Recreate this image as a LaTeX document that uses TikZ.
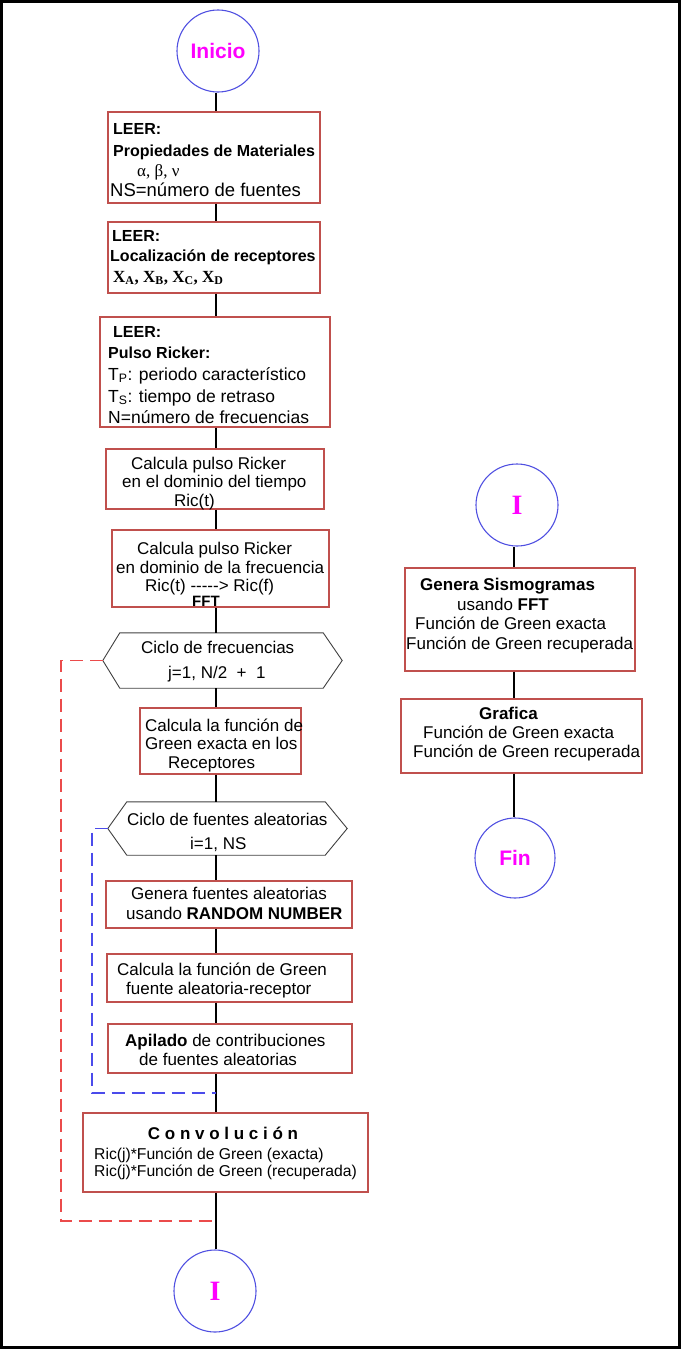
\documentclass[tikz,border=0pt]{standalone}
\usepackage{fontspec}
\setmainfont{Liberation Sans}
\newfontfamily\tnr{Liberation Serif}
\usetikzlibrary{calc}
\definecolor{boxred}{RGB}{192,80,77}
\definecolor{circblue}{RGB}{80,80,225}
\definecolor{mag}{RGB}{255,0,255}
\definecolor{dashred}{RGB}{235,75,75}
\definecolor{dashblue}{RGB}{75,75,235}
\begin{document}
\begin{tikzpicture}[x=1pt,y=-1pt,
  box/.style={draw=boxred, line width=1.3pt, fill=white, inner sep=0pt},
  circ/.style={draw=circblue, line width=1.1pt, circle, inner sep=0pt, minimum size=82pt},
  hexnode/.style={draw=none, inner sep=0pt},
  hexline/.style={draw=black!75, line width=0.9pt},
  t/.style={anchor=base west, inner sep=0pt, font=\fontsize{17}{19}\selectfont},
  tb/.style={anchor=base west, inner sep=0pt, font=\fontsize{16}{19}\selectfont\bfseries},
  tm/.style={anchor=base west, inner sep=0pt, font=\fontsize{17.5}{19}\selectfont},
  ts/.style={anchor=base west, inner sep=0pt, font=\fontsize{15.7}{17}\selectfont},
  link/.style={line width=1.8pt, black},
  loopred/.style={draw=dashred, line width=1.1pt, dash pattern=on 13pt off 7pt},
  loopblue/.style={draw=dashblue, line width=1.1pt, dash pattern=on 13pt off 7pt},
  magtxt/.style={text=mag, font=\fontsize{21}{21}\selectfont\bfseries},
  magI/.style={text=mag, font=\tnr\fontsize{28}{28}\selectfont\bfseries},
]
\useasboundingbox (0,0) rectangle (681,1349);
\draw[line width=3pt] (1.5,1.5) rectangle (679.5,1347.5);

\coordinate (spine) at (216,0);
\coordinate (spineR) at (514,0);

% ---- main column nodes
\node[circ, magtxt] (start) at (218,51) {Inicio};
\node[box, minimum width=212pt, minimum height=91pt] (b1) at (214,157.5) {};
\node[box, minimum width=212pt, minimum height=71pt] (b2) at (214,257.5) {};
\node[box, minimum width=230pt, minimum height=110pt] (b3) at (215,372) {};
\node[box, minimum width=218pt, minimum height=60pt] (b4) at (215,479) {};
\node[box, minimum width=217pt, minimum height=77pt] (b5) at (220.5,568.5) {};
\node[hexnode, minimum width=239pt, minimum height=55pt] (h1) at (222.5,660.5) {};
\node[box, minimum width=161pt, minimum height=66pt] (b6) at (220.5,741) {};
\node[hexnode, minimum width=239pt, minimum height=53pt] (h2) at (227.5,828.5) {};
\node[box, minimum width=246pt, minimum height=47pt] (b7) at (229,904.5) {};
\node[box, minimum width=245pt, minimum height=48pt] (b8) at (229.5,978) {};
\node[box, minimum width=244pt, minimum height=49pt] (b9) at (230,1048.5) {};
\node[box, minimum width=285pt, minimum height=79pt] (b10) at (225.5,1152.5) {};
\node[circ, magI] (endI) at (215,1291) {I};

% ---- right column nodes
\node[circ, magI] (startI) at (517,505) {I};
\node[box, minimum width=230pt, minimum height=103pt] (r1) at (520,619.5) {};
\node[box, minimum width=241pt, minimum height=74pt] (r2) at (521.5,736) {};
\node[circ, magtxt, minimum size=80pt] (fin) at (515,858) {Fin};

% ---- hexagons
\draw[hexline] (h1.west) -- ([xshift=17pt]h1.north west) -- ([xshift=-19pt]h1.north east)
  -- (h1.east) -- ([xshift=-19pt]h1.south east) -- ([xshift=17pt]h1.south west) -- cycle;
\draw[hexline] (h2.west) -- ([xshift=19pt]h2.north west) -- ([xshift=-22pt]h2.north east)
  -- (h2.east) -- ([xshift=-22pt]h2.south east) -- ([xshift=19pt]h2.south west) -- cycle;

% ---- connectors main column
\draw[link] (start.south -| spine) -- (b1.north -| spine);
\draw[link] (b1.south -| spine) -- (b2.north -| spine);
\draw[link] (b2.south -| spine) -- (b3.north -| spine);
\draw[link] (b3.south -| spine) -- (b4.north -| spine);
\draw[link] (b4.south -| spine) -- (b5.north -| spine);
\draw[link] (b5.south -| spine) -- (h1.north -| spine);
\draw[link] (h1.south -| spine) -- (b6.north -| spine);
\draw[link] (b6.south -| spine) -- (h2.north -| spine);
\draw[link] (h2.south -| spine) -- (b7.north -| spine);
\draw[link] (b7.south -| spine) -- (b8.north -| spine);
\draw[link] (b8.south -| spine) -- (b9.north -| spine);
\draw[link] (b9.south -| spine) -- (b10.north -| spine);
\draw[link] (b10.south -| spine) -- (endI.north -| spine);

% ---- connectors right column
\draw[link] (startI.south -| spineR) -- (r1.north -| spineR);
\draw[link] (r1.south -| spineR) -- (r2.north -| spineR);
\draw[link] (r2.south -| spineR) -- (fin.north -| spineR);

% ---- loop returns
\coordinate (redcorner) at (61,1221);
\coordinate (bluecorner) at (92,1093);
\draw[loopred] (h1.west) -- (h1.west -| redcorner) -- (redcorner) -- (redcorner -| spine);
\draw[loopblue] (h2.west) -- (h2.west -| bluecorner) -- (bluecorner) -- (bluecorner -| spine);

% ---- texts box 1
\node[tb] (b1t1) at (113,134) {LEER:};
\node[tb] (b1t2) at (113,156) {Propiedades de Materiales};
\node[anchor=base west, inner sep=0pt, font=\tnr\fontsize{17}{19}\selectfont] (b1t3) at (137,176) {α, β, ν};
\node[anchor=base west, inner sep=0pt, font=\fontsize{18.5}{20}\selectfont] (b1t4) at (110,196) {NS=número de fuentes};

% ---- box 2
\node[tb] (b2t1) at (112,241) {LEER:};
\node[tb] (b2t2) at (110,261) {Localización de receptores};
\node[anchor=base west, inner sep=0pt, font=\tnr\fontsize{17}{19}\selectfont\bfseries] (b2t3) at (113,282)
  {X\textsubscript{A}, X\textsubscript{B}, X\textsubscript{C}, X\textsubscript{D}};

% ---- box 3
\node[tb] (b3t1) at (113,337) {LEER:};
\node[tb] (b3t2) at (108,358) {Pulso Ricker:};
\node[tm] (b3t3) at (108,380) {T\textsubscript{P}: periodo característico};
\node[tm] (b3t4) at (108,402) {T\textsubscript{S}: tiempo de retraso};
\node[tm] (b3t5) at (108,423) {N=número de frecuencias};

% ---- box 4
\node[t] (b4t1) at (131,469) {Calcula pulso Ricker};
\node[t] (b4t2) at (122,487) {en el dominio del tiempo};
\node[t] (b4t3) at (174,506) {Ric(t)};

% ---- box 5
\node[t] (b5t1) at (137,554) {Calcula pulso Ricker};
\node[t] (b5t2) at (116,573) {en dominio de la frecuencia};
\node[t] (b5t3) at (145,591) {Ric(t) -{}-{}-{}-{}-> Ric(f)};
\node[anchor=base west, inner sep=0pt, font=\fontsize{15}{16}\selectfont\bfseries] (b5t4) at (192,606) {FFT};

% ---- hexagon 1
\node[t] (h1t1) at (141,653) {Ciclo de frecuencias};
\node[t] (h1t2) at (168,678) {j=1, N/2\ \ +\ \ 1};

% ---- box 6
\node[t] (b6t1) at (145,731) {Calcula la función de};
\node[t] (b6t2) at (145,749) {Green exacta en los};
\node[t] (b6t3) at (168,768) {Receptores};

% ---- hexagon 2
\node[t] (h2t1) at (127,825) {Ciclo de fuentes aleatorias};
\node[t] (h2t2) at (190,849) {i=1, NS};

% ---- box 7
\node[t] (b7t1) at (131,899) {Genera fuentes aleatorias};
\node[t] (b7t2) at (126,919) {usando \textbf{RANDOM NUMBER}};

% ---- box 8
\node[t] (b8t1) at (117,975) {Calcula la función de Green};
\node[t] (b8t2) at (126,994) {fuente aleatoria-receptor};

% ---- box 9
\node[t] (b9t1) at (125,1046) {\textbf{Apilado} de contribuciones};
\node[t] (b9t2) at (139,1065) {de fuentes aleatorias};

% ---- box 10
\node[anchor=base, inner sep=0pt, font=\fontsize{17}{19}\selectfont\bfseries] (b10t1) at (223,1139) {C o n v o l u c i ó n};
\node[ts] (b10t2) at (94,1159) {Ric(j)*Función de Green (exacta)};
\node[ts] (b10t3) at (94,1176) {Ric(j)*Función de Green (recuperada)};

% ---- right box 1
\node[t, font=\fontsize{17}{19}\selectfont\bfseries] (r1t1) at (420,590) {Genera Sismogramas};
\node[t] (r1t2) at (457,610) {usando \textbf{FFT}};
\node[t] (r1t3) at (415,629) {Función de Green exacta};
\node[t] (r1t4) at (406,649) {Función de Green recuperada};

% ---- right box 2
\node[t, font=\fontsize{17}{19}\selectfont\bfseries] (r2t1) at (479,719) {Grafica};
\node[t] (r2t2) at (423,738) {Función de Green exacta};
\node[t] (r2t3) at (413,757) {Función de Green recuperada};
\end{tikzpicture}
\end{document}
